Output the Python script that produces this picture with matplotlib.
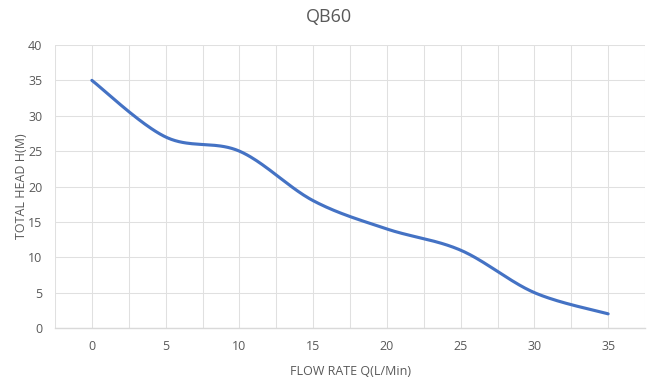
import numpy as np
import matplotlib.pyplot as plt

plt.rcParams['font.family'] = ['Open Sans', 'DejaVu Sans']

flow = [0, 5, 10, 15, 20, 25, 30, 35]
head = [35, 27, 25, 18, 14, 11, 5, 2]
x_ticks = [0, 5, 10, 15, 20, 25, 30, 35]
y_ticks = [0, 5, 10, 15, 20, 25, 30, 35, 40]


def smooth(xs, ys, n=40):
    # Excel-like smoothed line (Catmull-Rom as cubic Bezier)
    p = np.column_stack([xs, ys]).astype(float)
    p = np.vstack([p[0], p, p[-1]])
    out = []
    t = np.linspace(0, 1, n)[:, None]
    for i in range(1, len(p) - 2):
        p0, p1, p2, p3 = p[i - 1], p[i], p[i + 1], p[i + 2]
        c1 = p1 + (p2 - p0) / 6
        c2 = p2 - (p3 - p1) / 6
        seg = ((1 - t) ** 3) * p1 + 3 * ((1 - t) ** 2) * t * c1 + 3 * (1 - t) * t ** 2 * c2 + t ** 3 * p2
        out.append(seg if i == 1 else seg[1:])
    out = np.vstack(out)
    return out[:, 0], out[:, 1]


fig = plt.figure(figsize=(6.57, 3.86), dpi=100)
ax = fig.add_axes([55 / 657, 1 - 328 / 386, 590 / 657, 283 / 386])

grid_c = '#E0E0E0'
text_c = '#595959'

sx, sy = smooth(flow, head)
ax.plot(sx, sy, color='#4472C4', lw=2.25, solid_capstyle='round', zorder=3)

ax.set_xlim(-2.5, 37.5)
ax.set_ylim(0, 40)
ax.set_xticks(x_ticks)
ax.set_yticks(y_ticks)
ax.set_xticks(np.arange(-2.5, 38, 2.5), minor=True)
ax.grid(True, which='minor', axis='x', color=grid_c, lw=0.75)
ax.grid(True, which='major', axis='both', color=grid_c, lw=0.75)
ax.set_axisbelow(True)
for s in ['top', 'right', 'left']:
    ax.spines[s].set_visible(False)
ax.spines['bottom'].set_color('#D9D9D9')
ax.spines['bottom'].set_linewidth(1)
ax.tick_params(which='both', length=0, labelsize=9, labelcolor=text_c, pad=9)

ax.set_xlabel('FLOW RATE Q(L/Min)', fontsize=9, color=text_c, labelpad=8)
ax.set_ylabel('TOTAL HEAD H(M)', fontsize=9, color=text_c, labelpad=0)
fig.text(0.5, 1 - 17 / 386, 'QB60', ha='center', va='center', fontsize=13, color=text_c)

fig.savefig('out.png', dpi=100)
